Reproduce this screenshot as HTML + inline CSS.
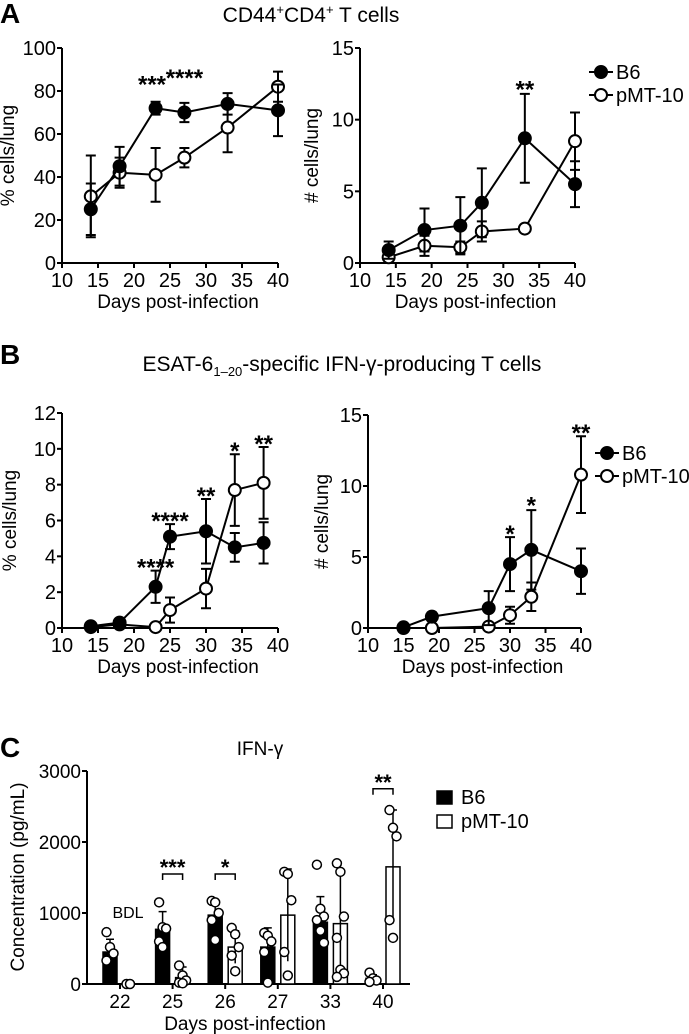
<!DOCTYPE html>
<html><head><meta charset="utf-8"><style>
body{margin:0;background:#fff;}
svg{display:block;font-family:"Liberation Sans",Arial,sans-serif;}
</style></head><body>
<svg id="fig" width="689" height="1034" viewBox="0 0 689 1034" xmlns="http://www.w3.org/2000/svg">
<text x="0" y="23" font-size="28" font-weight="bold">A</text>
<text x="311" y="22" font-size="21" text-anchor="middle">CD44<tspan font-size="13" dy="-8">+</tspan><tspan dy="8">CD4</tspan><tspan font-size="13" dy="-8">+</tspan><tspan dy="8"> T cells</tspan></text>
<text x="0" y="364" font-size="28" font-weight="bold">B</text>
<text x="342" y="371" font-size="21" text-anchor="middle">ESAT-6<tspan font-size="13" dy="5">1–20</tspan><tspan dy="-5">-specific IFN-γ-producing T cells</tspan></text>
<text x="0" y="757" font-size="28" font-weight="bold">C</text>
<text x="260" y="755" font-size="19" text-anchor="middle">IFN-γ</text>
<g id="g"></g>
</svg>
<script>
// Panel A left
const aLDays=[14,18,23,27,33,40];
const aLB6=[25,45,72,70,74,71];
const aLB6Err=[12,9,3,4.5,5,12];
const aLDaysP=[14,18,23,27,33,40];
const aLP=[31,42,41,49,63,82];
const aLPErr=[19,7,12.5,4.5,11.5,7];
const aLStars=[{x:22.5,y:85,t:"***"},{x:27,y:88,t:"****"}];
// Panel A right
const aRDays=[14,19,24,27,33,40];
const aRB6=[0.9,2.3,2.6,4.2,8.7,5.5];
const aRB6Err=[0.6,1.5,2,2.4,3.1,1.6];
const aRDaysP=[14,19,24,27,33,40];
const aRP=[0.4,1.2,1.1,2.2,2.4,8.5];
const aRPErr=[0.2,0.7,0.4,0.7,0.1,2];
const aRStars=[{x:33,y:12.4,t:"**"}];
// Panel B left
const bLDays=[14,18,23,25,30,34,38];
const bLB6=[0.1,0.3,2.3,5.1,5.4,4.5,4.75];
const bLB6Err=[0.05,0.2,0.9,0.7,1.8,0.8,1.15];
const bLDaysP=[14,18,23,25,30,34,38];
const bLP=[0.05,0.2,0.05,1.0,2.2,7.7,8.1];
const bLPErr=[0,0,0,0.7,1.1,2.0,2.0];
const bLStars=[{x:23,y:3.6,t:"****"},{x:25,y:6.2,t:"****"},{x:30,y:7.6,t:"**"},{x:34,y:10.1,t:"*"},{x:38,y:10.5,t:"**"}];
// Panel B right
const bRDays=[15,19,27,30,33,40];
const bRB6=[0.05,0.8,1.4,4.5,5.5,4.0];
const bRB6Err=[0,0.3,1.2,1.9,2.8,1.6];
const bRDaysP=[15,19,27,30,33,40];
const bRP=[0,0,0.1,0.9,2.2,10.8];
const bRPErr=[0,0,0,0.6,1.0,2.7];
const bRStars=[{x:30,y:6.9,t:"*"},{x:33,y:8.9,t:"*"},{x:40,y:14.0,t:"**"}];
// Panel C
const cDays=["22","25","26","27","33","40"];
const cB6=[450,770,970,520,870,80];
const cB6Err=[180,250,200,270,360,50];
const cP=[0,90,520,970,850,1650];
const cPErr=[0,150,230,650,700,800];
const cB6Dots=[[730,520,430,330],[1150,800,780,600,520],[1170,1150,1000,900,620],[720,680,600,450,20],[1680,1060,950,900,750,580],[160,80,50,30]];
const cPDots=[[0,0],[260,120,50,20,10],[790,700,520,400,180],[1580,1550,1180,450,120],[1700,1580,950,650,200,150,100],[2450,2200,2080,900,650]];
const cSig=[{i:1,t:"***",y:1550},{i:2,t:"*",y:1550},{i:5,t:"**",y:2750}];

const NS="http://www.w3.org/2000/svg";
const G=document.getElementById('g');
function mk(tag,attrs,parent,text){const e=document.createElementNS(NS,tag);for(const k in attrs)e.setAttribute(k,attrs[k]);if(text!==undefined)e.textContent=text;(parent||G).appendChild(e);return e;}

function lineChart(cfg){
  const g=mk('g',{});
  
  
  const sx=v=>cfg.x0+(v-10)/30*(cfg.x1-cfg.x0);
  const sy=v=>cfg.y0-(v/cfg.ymax)*(cfg.y0-cfg.y1);
  const ax=mk('path',{d:`M${cfg.x0},${cfg.y1}V${cfg.y0}H${cfg.x1}`,stroke:'#000','stroke-width':2,fill:'none'},g);
  
  
  cfg.yt.forEach(v=>{const y=sy(v);mk('line',{x1:cfg.x0-5,x2:cfg.x0,y1:y,y2:y,stroke:'#000','stroke-width':2},g);
    const t=mk('text',{x:cfg.x0-6,y:y+7,'font-size':20,'text-anchor':'end'},g,String(v));
    });
  [10,15,20,25,30,35,40].forEach(v=>{const x=sx(v);mk('line',{x1:x,x2:x,y1:cfg.y0,y2:cfg.y0+5,stroke:'#000','stroke-width':2},g);
    const t=mk('text',{x:x,y:cfg.y0+24,'font-size':20,'text-anchor':'middle'},g,String(v));
    });
  if(cfg.xtitle){const t=mk('text',{x:(cfg.x0+cfg.x1)/2+8,y:cfg.y0+45,'font-size':19,'text-anchor':'middle'},g,'Days post-infection');
    }
  const yt=mk('text',{transform:`translate(${cfg.ytx},${(cfg.y0+cfg.y1)/2}) rotate(-90)`,'font-size':19,'text-anchor':'middle'},g,cfg.ytitle);
  
  function series(days,vals,errs,filled,nm){
    const sg=mk('g',{},g);
    const pl=mk('polyline',{points:days.map((d,i)=>sx(d)+','+sy(vals[i])).join(' '),fill:'none',stroke:'#000','stroke-width':2},sg);
    
    days.forEach((d,i)=>{const x=sx(d),y=sy(vals[i]);
      if(errs[i]>0){const a=sy(vals[i]+errs[i]),b=sy(Math.max(0,vals[i]-errs[i]));
        const e=mk('path',{d:`M${x},${a}V${b}M${x-5},${a}H${x+5}M${x-5},${b}H${x+5}`,stroke:'#000','stroke-width':2,fill:'none'},sg);
        }
    });
    days.forEach((d,i)=>{const c=mk('circle',{cx:sx(d),cy:sy(vals[i]),r:6,fill:filled?'#000':'#fff',stroke:'#000','stroke-width':2},sg);
      });
  }
  series(cfg.dP,cfg.p,cfg.pe,false,'pmt10-series');
  series(cfg.d,cfg.b,cfg.be,true,'b6-series');
  cfg.stars.forEach(s=>{const t=mk('text',{x:sx(s.x),y:sy(s.y)+12,'font-size':24,'font-weight':'bold','text-anchor':'middle'},g,s.t);
    });
  if(cfg.leg){const lg=mk('g',{},g);
    [['B6',true],['pMT-10',false]].forEach((r,i)=>{const y=cfg.leg[1]+i*23;
      mk('line',{x1:cfg.leg[0]-12,x2:cfg.leg[0]+12,y1:y,y2:y,stroke:'#000','stroke-width':2},lg);
      const c=mk('circle',{cx:cfg.leg[0],cy:y,r:6,fill:r[1]?'#000':'#fff',stroke:'#000','stroke-width':2},lg);
      
      const t=mk('text',{x:cfg.leg[0]+15,y:y+7,'font-size':20},lg,r[0]);
      });}
}
lineChart({name:'chart-a-percent',x0:62,x1:278,y0:263,y1:48,ymax:100,yt:[0,20,40,60,80,100],ytitle:'% cells/lung',ytx:14,xtitle:true,
  d:aLDays,b:aLB6,be:aLB6Err,dP:aLDaysP,p:aLP,pe:aLPErr,stars:aLStars});
lineChart({name:'chart-a-number',x0:360,x1:575,y0:263,y1:48,ymax:15,yt:[0,5,10,15],ytitle:'# cells/lung',ytx:318,xtitle:true,
  d:aRDays,b:aRB6,be:aRB6Err,dP:aRDaysP,p:aRP,pe:aRPErr,stars:aRStars,leg:[601,72]});
lineChart({name:'chart-b-percent',x0:62,x1:278,y0:628,y1:413,ymax:12,yt:[0,2,4,6,8,10,12],ytitle:'% cells/lung',ytx:16,xtitle:true,
  d:bLDays,b:bLB6,be:bLB6Err,dP:bLDaysP,p:bLP,pe:bLPErr,stars:bLStars});
lineChart({name:'chart-b-number',x0:368,x1:581,y0:628,y1:415,ymax:15,yt:[0,5,10,15],ytitle:'# cells/lung',ytx:328,xtitle:true,
  d:bRDays,b:bRB6,be:bRB6Err,dP:bRDaysP,p:bRP,pe:bRPErr,stars:bRStars,leg:[607,453]});

// Panel C bar chart
(function(){
  const g=mk('g',{});
  const x0=87,x1=410,y0=984,y1=771,ymax=3000;
  const sy=v=>y0-v/ymax*(y0-y1);
  const cx=i=>120+i*52.6;
  const ax=mk('path',{d:`M${x0},${y1}V${y0}H${x1}`,stroke:'#000','stroke-width':2,fill:'none'},g);
  
  [0,1000,2000,3000].forEach(v=>{const y=sy(v);mk('line',{x1:x0-5,x2:x0,y1:y,y2:y,stroke:'#000','stroke-width':2},g);
    const t=mk('text',{x:x0-6,y:y+7,'font-size':19,'text-anchor':'end'},g,String(v));
    });
  const yt=mk('text',{transform:`translate(24,877) rotate(-90)`,'font-size':19,'text-anchor':'middle'},g,'Concentration (pg/mL)');
  
  const xt=mk('text',{x:245,y:1030,'font-size':19,'text-anchor':'middle'},g,'Days post-infection');
  
  cDays.forEach((d,i)=>{const c=cx(i);
    mk('line',{x1:c,x2:c,y1:y0,y2:y0+5,stroke:'#000','stroke-width':2},g);
    const t=mk('text',{x:c,y:y0+24,'font-size':19,'text-anchor':'middle'},g,d);
    
    [[cB6,cB6Err,cB6Dots,-10,'#000','b6'],[cP,cPErr,cPDots,10,'#fff','pmt10']].forEach(s=>{
      const bx=c+s[3],v=s[0][i],e=s[1][i];
      if(v>0){const r=mk('rect',{x:bx-7,y:sy(v),width:14,height:y0-sy(v),fill:s[4],stroke:'#000','stroke-width':1.5},g);
        }
      if(e>0){const a=sy(v+e),b=sy(Math.max(0,v-e));
        const p=mk('path',{d:`M${bx},${a}V${b}M${bx-4},${a}H${bx+4}`,stroke:'#000','stroke-width':1.5,fill:'none'},g);
        }
      s[2][i].forEach((dv,k)=>{const o=(k%3-1)*3.5;
        const ci=mk('circle',{cx:bx+o,cy:sy(dv),r:4.5,fill:'#fff',stroke:'#000','stroke-width':1.5},g);
        });
    });
  });
  const bdl=mk('text',{x:128,y:918,'font-size':16,'text-anchor':'middle'},g,'BDL');
  
  cSig.forEach(s=>{const c=cx(s.i),y=sy(s.y);
    const p=mk('path',{d:`M${c-10},${y+6}V${y}H${c+10}V${y+6}`,stroke:'#000','stroke-width':1.5,fill:'none'},g);
    
    const t=mk('text',{x:c,y:y+1,'font-size':22,'font-weight':'bold','text-anchor':'middle'},g,s.t);
    });
  const lg=mk('g',{},g);
  [['B6','#000'],['pMT-10','#fff']].forEach((r,i)=>{const y=797+i*24;
    const q=mk('rect',{x:437,y:y-6,width:15,height:13,fill:r[1],stroke:'#000','stroke-width':1.5},lg);
    
    const t=mk('text',{x:461,y:y+7,'font-size':20},lg,r[0]);
    });
})();
</script>
</body></html>
